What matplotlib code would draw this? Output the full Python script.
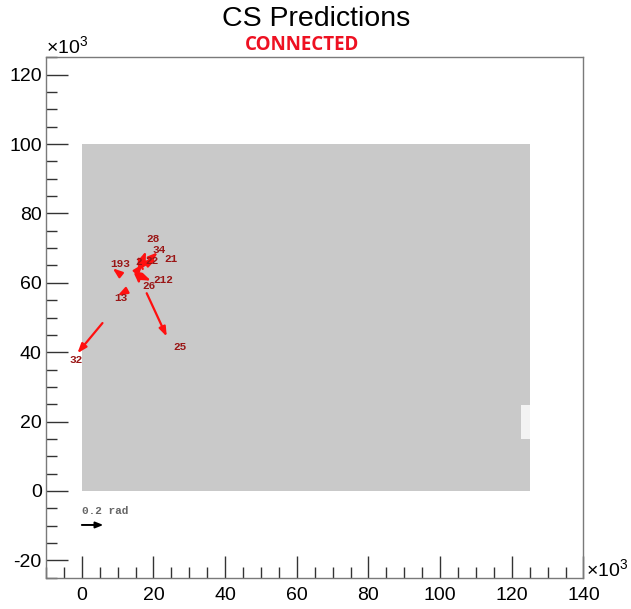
import matplotlib
matplotlib.use("Agg")
import matplotlib.pyplot as plt
from matplotlib.patches import Rectangle
from matplotlib.ticker import MultipleLocator

plt.rcParams["font.family"] = ["Liberation Sans", "DejaVu Sans"]
plt.rcParams["mathtext.fontset"] = "custom"
plt.rcParams["mathtext.rm"] = "Liberation Sans"
plt.rcParams["mathtext.it"] = "Liberation Sans"
plt.rcParams["axes.unicode_minus"] = False

# Detector area (units of 1e3)
det_x = [0, 125]
det_y = [0, 100]
gap_x = [122.5, 125]
gap_y = [15, 24.8]

# Cluster predictions: arrow tail, arrow head, label
labels = ["32", "25", "193", "13", "28", "34", "21", "2", "212", "26", "22"]
tail_x = [5.76, 18.1, 10.9, 12.3, 16.0, 16.5, 16.5, 17.0, 16.0, 15.6, 15.1]
tail_y = [48.4, 57.0, 62.3, 57.6, 64.0, 64.5, 64.5, 64.0, 62.1, 64.0, 63.0]
head_x = [-1.23, 23.7, 8.6, 10.0, 17.9, 21.2, 20.7, 15.6, 19.3, 16.0, 17.0]
head_y = [39.7, 44.5, 64.2, 56.3, 69.1, 68.8, 66.9, 67.8, 60.6, 59.5, 65.4]
label_x = [-1.7, 27.4, 10.7, 10.9, 19.8, 21.6, 24.8, 15.8, 22.8, 18.8, 19.6]
label_y = [37.8, 41.5, 65.4, 55.5, 72.6, 69.6, 66.8, 65.9, 60.8, 59.2, 66.2]

# Reference arrow for angle scale
scale_tail = (0, -9.8)
scale_head = (6.0, -9.8)
scale_text = "0.2 rad"

fig = plt.figure(figsize=(6.31, 6.09), dpi=100)
ax = fig.add_axes([0.0729, 0.0514, 0.9247 - 0.0729, 0.9059 - 0.0514])
ax.set_xlim(-10, 140)
ax.set_ylim(-25, 125)

ax.add_patch(Rectangle((det_x[0], det_y[0]), det_x[1] - det_x[0], det_y[1] - det_y[0],
                       facecolor="#c9c9c9", edgecolor="none", zorder=1))
ax.add_patch(Rectangle((gap_x[0], gap_y[0]), gap_x[1] - gap_x[0], gap_y[1] - gap_y[0],
                       facecolor="#f3f3f3", edgecolor="none", zorder=2))

for i, lab in enumerate(labels):
    ax.annotate("", xy=(head_x[i], head_y[i]), xytext=(tail_x[i], tail_y[i]),
                arrowprops=dict(arrowstyle="-|>,head_length=0.55,head_width=0.2",
                                color="#ff1010", lw=1.6, shrinkA=0, shrinkB=0),
                zorder=4)
    ax.text(label_x[i], label_y[i], lab, color="#9a1616", fontsize=8,
            family="Liberation Mono", fontweight="bold", ha="center", va="center",
            zorder=5)

ax.annotate("", xy=scale_head, xytext=scale_tail,
            arrowprops=dict(arrowstyle="-|>,head_length=0.45,head_width=0.18",
                            color="black", lw=1.4, shrinkA=0, shrinkB=0))
ax.text(scale_tail[0], -6.6, scale_text, color="#666666", fontsize=8,
        family="Liberation Mono", fontweight="bold", ha="left", va="baseline")

for s in ax.spines.values():
    s.set_color("#7a7a7a")
    s.set_linewidth(1.0)

ax.xaxis.set_major_locator(MultipleLocator(20))
ax.xaxis.set_minor_locator(MultipleLocator(5))
ax.yaxis.set_major_locator(MultipleLocator(20))
ax.yaxis.set_minor_locator(MultipleLocator(5))
ax.tick_params(which="both", direction="in", top=False, right=False,
               color="#333333", labelsize=14, width=1.0)
ax.tick_params(which="major", length=16, pad=7)
ax.tick_params(which="minor", length=8)
ax.tick_params(axis="y", which="major", pad=3)
ax.set_xticks(range(0, 141, 20))
ax.set_yticks(range(-20, 121, 20))

fig.text(0.0735, 1 - 52.7 / 609, r"$\times10^{3}$", fontsize=14, ha="left", va="baseline")
fig.text(586 / 631, 1 - 576 / 609, r"$\times10^{3}$", fontsize=14, ha="left", va="baseline")

fig.text(316 / 631, 1 - 26 / 609, "CS Predictions", fontsize=20.5, ha="center",
         va="baseline")
fig.text(302 / 631, 1 - 50 / 609, "CONNECTED", fontsize=13.5, ha="center", va="baseline",
         color="#ee1122", family="Open Sans", fontweight="bold")

fig.savefig("out.png", dpi=100)
